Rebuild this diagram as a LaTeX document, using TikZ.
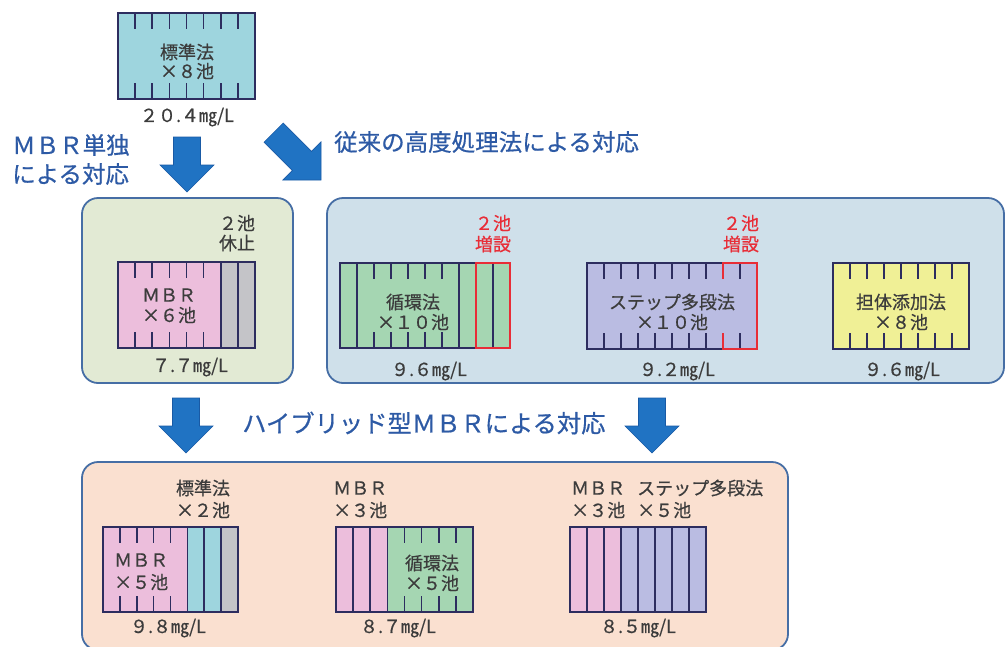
\documentclass[tikz,border=0pt]{standalone}
\usepackage{fontspec}
\newfontfamily\jp[FakeBold=0.6]{Noto Sans CJK JP}
\newcommand\fsz[1]{\fontsize{#1}{#1}\selectfont}
\definecolor{txt}{RGB}{60,60,60}
\definecolor{bluetxt}{RGB}{45,90,165}
\definecolor{redc}{RGB}{232,45,55}
\definecolor{tankc}{RGB}{45,45,95}
\definecolor{stdc}{RGB}{158,213,222}
\definecolor{mbrc}{RGB}{236,190,220}
\definecolor{grayc}{RGB}{196,196,200}
\definecolor{cyclec}{RGB}{165,214,178}
\definecolor{stepc}{RGB}{186,188,226}
\definecolor{carrierc}{RGB}{240,240,150}
\definecolor{pgreen}{RGB}{226,234,212}
\definecolor{pblue}{RGB}{207,224,234}
\definecolor{ppeach}{RGB}{250,224,208}
\definecolor{pborder}{RGB}{70,110,165}
\definecolor{arrowc}{RGB}{32,115,195}
\definecolor{arrowedge}{RGB}{25,90,165}
\tikzset{
  tk/.style={draw=tankc, line width=1.6pt},
  red rect/.style={draw=redc, line width=2.2pt},
  panel/.style={draw=pborder, line width=1.8pt, rounded corners=16pt},
  lbl/.style={font=\jp\fsz{18}, text=txt, inner sep=0pt},
  val/.style={font=\jp\fsz{18}, text=txt, inner sep=0pt},
  redlbl/.style={font=\jp\fsz{18}, text=redc, inner sep=0pt},
  head/.style={font=\jp\fsz{23.5}, text=bluetxt, inner sep=0pt},
  pics/bigarrow/.style={code={
    \filldraw[fill=arrowc, draw=arrowedge, line width=0.6pt, line join=miter]
      (0,0) -- (-27,27) -- (-27,13.5) -- (-#1,13.5) -- (-#1,-13.5)
      -- (-27,-13.5) -- (-27,-27) -- cycle;
  }}
}
\begin{document}
\begin{tikzpicture}[x=1pt,y=-1pt]
\useasboundingbox (0,0) rectangle (1006,646);
\fill[white] (0,0) rectangle (1006,646);

% ---------- panels ----------
\draw[panel, fill=pgreen] (82,198) rectangle (293,383);
\draw[panel, fill=pblue] (327,198) rectangle (1004,383);
\draw[panel, fill=ppeach] (82,462) rectangle (788,650);

% ---------- top tank: standard x8 ----------
\fill[stdc] (118,13) rectangle (255,99);
\foreach \i in {1,...,7} {
  \draw[tk] (118+\i*17.125,13) -- ++(0,16);
  \draw[tk] (118+\i*17.125,99) -- ++(0,-16);
}
\draw[tk] (118,13) rectangle (255,99);
\node[lbl] (std) at (187,52) {標準法};
\node[lbl] (stdn) at (187,71) {×８池};
\node[val] (v0) at (187,117) {２０.４㎎/L};

% ---------- headings ----------
\node[head, anchor=west] (h1a) at (12,145) {ＭＢＲ単独};
\node[head, anchor=west] (h1b) at (12,174) {による対応};
\node[head, anchor=west] (h2) at (334,142) {従来の高度処理法による対応};
\node[head, anchor=west, font=\jp\fsz{24.3}] (h3) at (242,423) {ハイブリッド型ＭＢＲによる対応};

% ---------- arrows ----------
\pic[rotate=-90] at (187,192) {bigarrow=55};
\pic[rotate=-45] at (321,180) {bigarrow=67};
\pic[rotate=-90] at (186,453) {bigarrow=55};
\pic[rotate=-90] at (652,453) {bigarrow=55};

% ---------- left panel: MBR x6 + 2 stopped ----------
\fill[mbrc] (118,262) rectangle (220.75,348);
\fill[grayc] (220.75,262) rectangle (255,348);
\foreach \i in {1,...,5} {
  \draw[tk] (118+\i*17.125,262) -- ++(0,16);
  \draw[tk] (118+\i*17.125,348) -- ++(0,-16);
}
\foreach \i in {6,7} \draw[tk] (118+\i*17.125,262) -- (118+\i*17.125,348);
\draw[tk] (118,262) rectangle (255,348);
\node[lbl] (stop1) at (237,223) {２池};
\node[lbl] (stop2) at (237,243) {休止};
\node[lbl] (mbr6a) at (169,295) {ＭＢＲ};
\node[lbl] (mbr6b) at (169,315) {×６池};
\node[val] (v1) at (190,367) {７.７㎎/L};

% ---------- right panel: circulation x10 ----------
\fill[cyclec] (340,263) rectangle (510,348);
\foreach \i in {2,...,6} {
  \draw[tk] (340+\i*17,263) -- ++(0,16);
  \draw[tk] (340+\i*17,348) -- ++(0,-16);
}
\foreach \i in {1,7,8,9} \draw[tk] (340+\i*17,263) -- (340+\i*17,348);
\draw[tk] (340,263) rectangle (510,348);
\draw[red rect] (476,263) rectangle (510,348);
\node[redlbl] (add1a) at (493,223) {２池};
\node[redlbl] (add1b) at (493,244) {増設};
\node[lbl] (cyc) at (413,302) {循環法};
\node[lbl] (cycn) at (413,322) {×１０池};
\node[val] (v2) at (429,371) {９.６㎎/L};

% ---------- right panel: step feed x10 ----------
\fill[stepc] (587,263) rectangle (757,349);
\foreach \i in {1,...,9} {
  \draw[tk] (587+\i*17,263) -- ++(0,16);
  \draw[tk] (587+\i*17,349) -- ++(0,-16);
}
\draw[tk] (587,263) rectangle (757,349);
\draw[red rect] (723,279) -- (723,263) -- (757,263) -- (757,349) -- (723,349) -- (723,333);
\node[redlbl] (add2a) at (741,223) {２池};
\node[redlbl] (add2b) at (741,244) {増設};
\node[lbl] (step) at (672,302) {ステップ多段法};
\node[lbl] (stepn) at (672,322) {×１０池};
\node[val] (v3) at (677,371) {９.２㎎/L};

% ---------- right panel: carrier x8 ----------
\fill[carrierc] (833,263) rectangle (969,349);
\foreach \i in {1,...,7} {
  \draw[tk] (833+\i*17,263) -- ++(0,16);
  \draw[tk] (833+\i*17,349) -- ++(0,-16);
}
\draw[tk] (833,263) rectangle (969,349);
\node[lbl] (car) at (901,302) {担体添加法};
\node[lbl] (carn) at (901,322) {×８池};
\node[val] (v4) at (902,371) {９.６㎎/L};

% ---------- bottom: MBR x5 + standard x2 ----------
\fill[mbrc] (103,527) rectangle (187.4,612);
\fill[stdc] (187.4,527) rectangle (221.1,612);
\fill[grayc] (221.1,527) rectangle (238,612);
\foreach \i in {1,...,4} {
  \draw[tk] (103+\i*16.875,527) -- ++(0,16);
  \draw[tk] (103+\i*16.875,612) -- ++(0,-16);
}
\foreach \i in {5,6,7} \draw[tk] (103+\i*16.875,527) -- (103+\i*16.875,612);
\draw[tk] (103,527) rectangle (238,612);
\node[lbl] (b1a) at (203,488) {標準法};
\node[lbl] (b1b) at (203,510) {×２池};
\node[lbl, anchor=west] (b1c) at (114,560) {ＭＢＲ};
\node[lbl, anchor=west] (b1d) at (114,582) {×５池};
\node[val] (v5) at (168,628) {９.８㎎/L};

% ---------- bottom: MBR x3 + circulation x5 ----------
\fill[mbrc] (336,527) rectangle (387.4,612);
\fill[cyclec] (387.4,527) rectangle (473,612);
\foreach \i in {4,...,7} {
  \draw[tk] (336+\i*17.125,527) -- ++(0,16);
  \draw[tk] (336+\i*17.125,612) -- ++(0,-16);
}
\foreach \i in {1,2,3} \draw[tk] (336+\i*17.125,527) -- (336+\i*17.125,612);
\draw[tk] (336,527) rectangle (473,612);
\node[lbl, anchor=west] (b2a) at (333,488) {ＭＢＲ};
\node[lbl, anchor=west] (b2b) at (333,510) {×３池};
\node[lbl] (b2c) at (432,563) {循環法};
\node[lbl] (b2d) at (432,583) {×５池};
\node[val] (v6) at (398,628) {８.７㎎/L};

% ---------- bottom: MBR x3 + step feed x5 ----------
\fill[mbrc] (570,527) rectangle (621,612);
\fill[stepc] (621,527) rectangle (706,612);
\foreach \i in {1,...,7} \draw[tk] (570+\i*17,527) -- (570+\i*17,612);
\draw[tk] (570,527) rectangle (706,612);
\node[lbl, anchor=west] (b3a) at (571,488) {ＭＢＲ};
\node[lbl, anchor=west] (b3b) at (571,510) {×３池};
\node[lbl, anchor=west] (b3c) at (637,488) {ステップ多段法};
\node[lbl, anchor=west] (b3d) at (637,510) {×５池};
\node[val] (v7) at (638,628) {８.５㎎/L};
\end{tikzpicture}
\end{document}
